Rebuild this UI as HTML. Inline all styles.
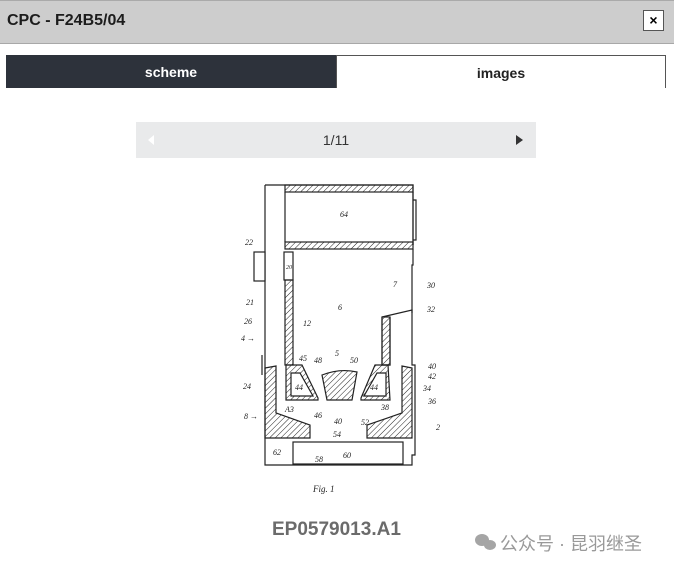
<!DOCTYPE html>
<html><head><meta charset="utf-8"><style>
body{margin:0;width:674px;height:568px;background:#fff;font-family:"Liberation Sans",Arial,sans-serif;position:relative;overflow:hidden}
.hdr{position:absolute;left:0;top:0;width:674px;height:42px;background:#cdcdcd;border-top:1px solid #aaa;border-bottom:1px solid #a8a8a8}
.hdr .t{position:absolute;left:7px;top:11px;font-size:16px;font-weight:bold;color:#1c1c1c}
.x{position:absolute;left:643px;top:9px;width:21px;height:21px;background:#fff;border:1px solid #555;box-sizing:border-box;text-align:center;font-weight:bold;font-size:14px;line-height:19px}
.tab1{position:absolute;left:6px;top:55px;width:330px;height:33px;background:#2d323b;color:#fff;font-weight:bold;font-size:14px;text-align:center;line-height:34px}
.tab2{position:absolute;left:336px;top:55px;width:330px;height:33px;border:1px solid #555;border-bottom:none;box-sizing:border-box;color:#222;font-weight:bold;font-size:14px;text-align:center;line-height:34px}
.pg{position:absolute;left:136px;top:122px;width:400px;height:36px;background:#e9eaeb;font-size:14px;color:#333;text-align:center;line-height:37px}
.cap{position:absolute;left:272px;top:519px;font-size:19px;font-weight:bold;color:#6b6b6b}
.wm{position:absolute;left:500px;top:530px;font-size:18px;color:#999;font-family:"Liberation Sans","Noto Sans CJK SC",sans-serif}
</style></head><body>
<div class="hdr"><div class="t">CPC - F24B5/04</div><div class="x">×</div></div>
<div class="tab1">scheme</div><div class="tab2">images</div>
<div class="pg">1/11
<svg style="position:absolute;left:12px;top:13px" width="6" height="10"><path d="M6 0L0 5L6 10Z" fill="#fff"/></svg>
<svg style="position:absolute;left:380px;top:13px" width="7" height="10"><path d="M0 0L7 5L0 10Z" fill="#333"/></svg></div>
<svg style="position:absolute;left:0;top:0" width="674" height="568">
<defs><pattern id="h" width="4" height="4" patternUnits="userSpaceOnUse" patternTransform="rotate(45)"><line x1="0" y1="0" x2="0" y2="4" stroke="#222" stroke-width="1"/></pattern></defs>
<g fill="none" stroke="#222" stroke-width="1.2">
<path d="M265 185V465H412V455H415V365H412V310"/>
<path d="M265 185H413V245"/>
<rect x="285" y="185" width="128" height="7" fill="url(#h)"/>
<rect x="285" y="242" width="128" height="7" fill="url(#h)"/>
<path d="M413 192V245M413 200h3v40h-3M285 192V242"/>
<path d="M413 249V265h-1V310"/>
<rect x="254" y="252" width="11" height="29" fill="#fff"/>
<rect x="284" y="252" width="9" height="28" fill="#fff"/>
<rect x="285" y="280" width="8" height="85" fill="url(#h)"/>
<path d="M382 317L412 310V313M382 317V365H390V317"/>
<rect x="382" y="317" width="8" height="48" fill="url(#h)"/>
<path d="M265 368L276 366V413L310 425V438H265Z" fill="url(#h)"/>
<path d="M412 368L402 366V413L367 425V438H412Z" fill="url(#h)"/>
<path d="M286 365H302L318 398V400H286Z" fill="url(#h)"/>
<path d="M291 373H300L313 396H291Z" fill="#fff"/>
<path d="M322 375Q340 368 357 372L352 400H327Z" fill="url(#h)"/>
<path d="M388 365H375L361 398V400H390Z" fill="url(#h)"/>
<path d="M386 373H377L364 396H386Z" fill="#fff"/>
<rect x="293" y="442" width="110" height="22" fill="#fff"/>
<path d="M262 355V375"/>
</g>
<g font-family="Liberation Serif,serif" font-size="8" font-style="italic" fill="#222">
<text x="340" y="217">64</text><text x="286" y="269" font-size="6">20</text><text x="245" y="245">22</text>
<text x="246" y="305">21</text><text x="244" y="324">26</text><text x="241" y="341">4 →</text>
<text x="303" y="326">12</text><text x="338" y="310">6</text><text x="393" y="287">7</text>
<text x="427" y="288">30</text><text x="427" y="312">32</text><text x="335" y="356">5</text>
<text x="299" y="361">45</text><text x="314" y="363">48</text><text x="350" y="363">50</text>
<text x="295" y="390">44</text><text x="370" y="390">44</text><text x="428" y="369">40</text>
<text x="428" y="379">42</text><text x="423" y="391">34</text><text x="428" y="404">36</text>
<text x="243" y="389">24</text><text x="285" y="412">A3</text><text x="314" y="418">46</text>
<text x="381" y="410">38</text><text x="244" y="419">8 →</text><text x="334" y="424">40</text>
<text x="333" y="437">54</text><text x="361" y="425">52</text><text x="436" y="430">2</text>
<text x="273" y="455">62</text><text x="315" y="462">58</text><text x="343" y="458">60</text>
<text x="313" y="492" font-size="9">Fig. 1</text></g>
<g fill="#a5a5a5"><ellipse cx="482" cy="540" rx="7" ry="6"/><ellipse cx="490" cy="545" rx="6" ry="5"/></g>
</svg>
<div class="cap">EP0579013.A1</div>
<div class="wm">公众号 · 昆羽继圣</div>
</body></html>
